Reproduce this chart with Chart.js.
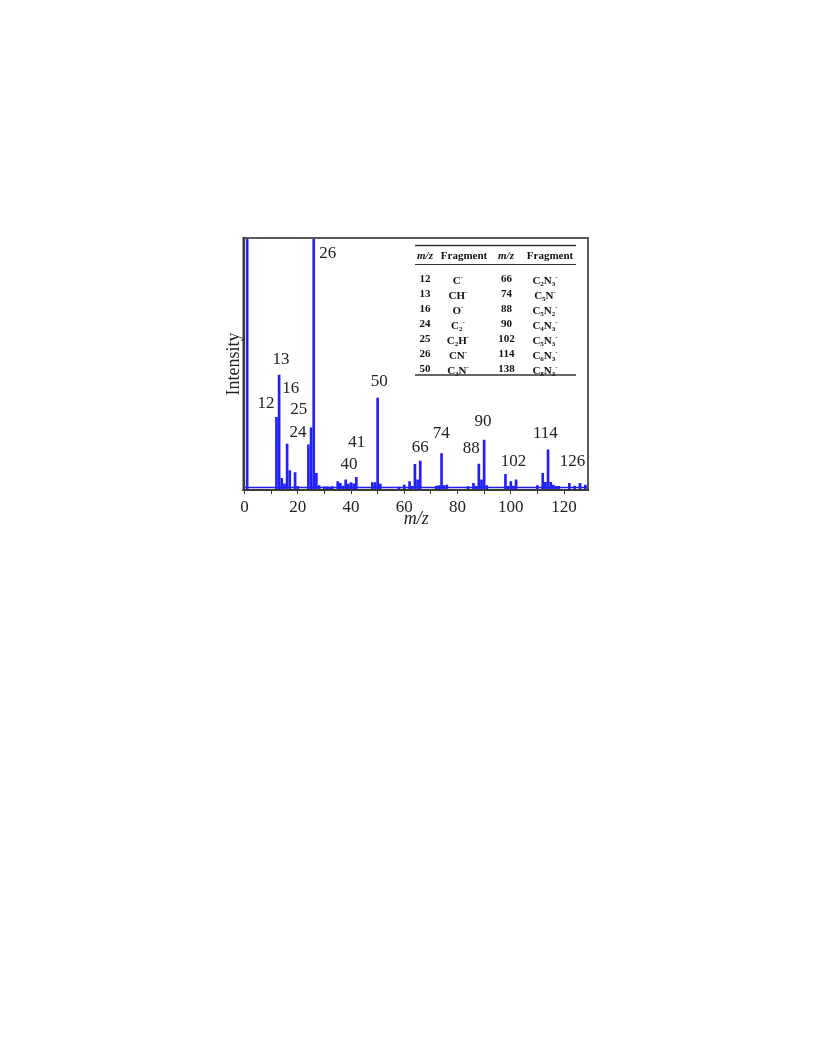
<!DOCTYPE html>
<html>
<head>
<meta charset="utf-8">
<script src="https://cdn.jsdelivr.net/npm/chart.js@4.4.1/dist/chart.umd.min.js"></script>
<style>
  html, body { margin: 0; padding: 0; background: #ffffff; }
  #wrap { position: absolute; left: 0; top: 0; width: 816px; height: 1056px; }
</style>
</head>
<body>
<div id="wrap"><canvas id="c" width="816" height="1056"></canvas></div>
<script>
// ---------- DATA ----------
const mzValues = [1, 12, 13, 14, 15, 16, 17, 19, 20, 24, 25, 26, 27, 28, 30, 31, 32, 33,
  35, 36, 37, 38, 39, 40, 41, 42, 48, 49, 50, 51, 58, 60, 62, 63, 64, 65, 66,
  72, 73, 74, 75, 76, 84, 86, 87, 88, 89, 90, 91, 98, 99, 100, 101, 102,
  110, 112, 113, 114, 115, 116, 117, 118, 122, 124, 126, 128];
const intensities = [100, 28.8, 45.6, 4.6, 2.4, 18.2, 7.7, 6.9, 1.5, 17.9, 24.7, 100, 6.6, 1.8, 1.3, 1.3, 1.2, 1.4,
  3.3, 2.6, 1.6, 4.0, 2.3, 2.9, 2.4, 5.0, 2.9, 2.9, 36.5, 2.3, 1.2, 2.0, 3.3, 1.5, 10.2, 4.0, 11.5,
  1.6, 1.8, 14.5, 1.8, 2.0, 1.4, 2.6, 1.5, 10.3, 4.0, 19.8, 1.8, 6.2, 1.5, 3.3, 1.6, 4.0,
  1.8, 6.6, 3.0, 15.9, 3.0, 2.0, 1.5, 1.5, 2.6, 1.6, 2.6, 2.0];
const baselineMz = [0, 129];
const baselineLevel = [1.0, 1.0];
const xTickLabels = [0, 20, 40, 60, 80, 100, 120];

const peakLabels = ['26', '13', '12', '16', '25', '24', '41', '40', '50', '66', '74', '88', '90', '102', '114', '126'];
const peakLabelMz = [31.3, 13.7, 8.1, 17.4, 20.4, 20.1, 42.2, 39.2, 50.6, 66.0, 73.9, 85.2, 89.6, 101.0, 113.0, 123.2];
const peakLabelLevel = [93.7, 51.6, 34.5, 40.1, 32.1, 23.0, 19.0, 10.3, 43.1, 16.9, 22.6, 16.3, 27.0, 11.1, 22.6, 11.1];

const tableHeader = ['m/z', 'Fragment', 'm/z', 'Fragment'];
const tableMzLeft = ['12', '13', '16', '24', '25', '26', '50'];
const tableFragLeft = ['C^-', 'CH^-', 'O^-', 'C_2^-', 'C_2H^-', 'CN^-', 'C_3N^-'];
const tableMzRight = ['66', '74', '88', '90', '102', '114', '138'];
const tableFragRight = ['C_2N_3^-', 'C_5N^-', 'C_5N_2^-', 'C_4N_3^-', 'C_5N_3^-', 'C_6N_3^-', 'C_8N_3^-'];

// ---------- LAYOUT / STYLE ----------
const W = 816, H = 1056;
const PLOT = { left: 244.5, right: 588, top: 238, bottom: 490 };
const Y_AXIS_W = 21, X_AXIS_H = 40;
const SERIF = "'Liberation Serif', 'Times New Roman', serif";
const BLUE = '#1f1fff';

Chart.defaults.font.family = SERIF;
Chart.defaults.color = '#222';

const framePlugin = {
  id: 'frame',
  afterDatasetsDraw(chart) {
    const { ctx, chartArea: a } = chart;
    ctx.save();
    ctx.strokeStyle = '#5a5a5a';
    ctx.lineWidth = 2;
    ctx.beginPath();
    ctx.moveTo(a.left, a.top); ctx.lineTo(a.right, a.top); ctx.lineTo(a.right, a.bottom);
    ctx.stroke();
    ctx.strokeStyle = '#3a3a3a';
    ctx.lineWidth = 2.5;
    ctx.beginPath(); ctx.moveTo(a.left - 0.75, a.top - 1); ctx.lineTo(a.left - 0.75, a.bottom + 1); ctx.stroke();
    ctx.lineWidth = 2;
    ctx.beginPath(); ctx.moveTo(a.left - 2, a.bottom); ctx.lineTo(a.right + 1, a.bottom); ctx.stroke();
    ctx.restore();
  }
};

const labelPlugin = {
  id: 'peakLabels',
  afterDraw(chart) {
    const { ctx } = chart;
    const xs = chart.scales.x, ys = chart.scales.y;
    ctx.save();
    ctx.fillStyle = '#222';
    ctx.font = '17px ' + SERIF;
    ctx.textAlign = 'center';
    ctx.textBaseline = 'middle';
    peakLabels.forEach((t, i) => {
      ctx.fillText(t, xs.getPixelForValue(peakLabelMz[i]), ys.getPixelForValue(peakLabelLevel[i]));
    });
    ctx.restore();
  }
};

function parseChem(s) {
  const parts = [];
  for (let i = 0; i < s.length; i++) {
    const ch = s[i];
    if (ch === '_' || ch === '^') { parts.push({ t: s[i + 1], k: ch === '_' ? 'sub' : 'sup' }); i++; }
    else parts.push({ t: ch, k: 'base' });
  }
  return parts;
}
function drawChem(ctx, s, cx, cy) {
  const parts = parseChem(s);
  const baseFont = 'bold 11px ' + SERIF, smallFont = 'bold 7px ' + SERIF;
  let total = 0;
  parts.forEach(p => { ctx.font = p.k === 'base' ? baseFont : smallFont; p.w = ctx.measureText(p.t).width; total += p.w; });
  let x = cx - total / 2;
  ctx.textAlign = 'left';
  ctx.textBaseline = 'alphabetic';
  const base = cy + 4;
  parts.forEach(p => {
    ctx.font = p.k === 'base' ? baseFont : smallFont;
    const y = p.k === 'sub' ? base + 2.5 : (p.k === 'sup' ? base - 4.5 : base);
    ctx.fillText(p.t, x, y);
    x += p.w;
  });
}

const tablePlugin = {
  id: 'fragTable',
  afterDraw(chart) {
    const { ctx } = chart;
    const x0 = 415, x1 = 576;
    const colHead = [425, 464, 506, 550];
    const colBody = [425, 458, 506.5, 545];
    ctx.save();
    ctx.strokeStyle = '#333';
    ctx.lineWidth = 1.5;
    ctx.beginPath(); ctx.moveTo(x0, 245.5); ctx.lineTo(x1, 245.5); ctx.stroke();
    ctx.lineWidth = 1;
    ctx.beginPath(); ctx.moveTo(x0, 264.5); ctx.lineTo(x1, 264.5); ctx.stroke();
    ctx.lineWidth = 1.5;
    ctx.beginPath(); ctx.moveTo(x0, 375); ctx.lineTo(x1, 375); ctx.stroke();
    ctx.fillStyle = '#111';
    ctx.textAlign = 'center';
    ctx.textBaseline = 'middle';
    tableHeader.forEach((h, i) => {
      ctx.font = (h === 'm/z' ? 'italic bold 11px ' : 'bold 11px ') + SERIF;
      ctx.fillText(h, colHead[i], 256.5);
    });
    for (let r = 0; r < tableMzLeft.length; r++) {
      const y = 279.5 + r * 15;
      ctx.font = 'bold 11px ' + SERIF;
      ctx.textAlign = 'center'; ctx.textBaseline = 'middle';
      ctx.fillText(tableMzLeft[r], colBody[0], y);
      ctx.fillText(tableMzRight[r], colBody[2], y);
      drawChem(ctx, tableFragLeft[r], colBody[1], y);
      drawChem(ctx, tableFragRight[r], colBody[3], y);
    }
    ctx.restore();
  }
};

new Chart(document.getElementById('c'), {
  type: 'bar',
  data: {
    datasets: [
      {
        type: 'bar',
        data: mzValues.map((m, i) => ({ x: m, y: intensities[i] })),
        backgroundColor: BLUE,
        borderWidth: 0,
        barThickness: 2
      },
      {
        type: 'line',
        data: baselineMz.map((m, i) => ({ x: m, y: baselineLevel[i] })),
        borderColor: BLUE,
        borderWidth: 1.5,
        pointRadius: 0,
        fill: false
      }
    ]
  },
  options: {
    responsive: false,
    animation: false,
    devicePixelRatio: 1,
    layout: {
      padding: {
        left: PLOT.left - Y_AXIS_W,
        top: PLOT.top,
        right: W - PLOT.right,
        bottom: H - PLOT.bottom - X_AXIS_H
      }
    },
    plugins: { legend: { display: false }, tooltip: { enabled: false } },
    scales: {
      x: {
        type: 'linear',
        min: 0, max: 129,
        offset: false,
        grid: { display: true, offset: false, drawOnChartArea: false, drawTicks: true, tickLength: 4, color: '#333', lineWidth: 1 },
        border: { display: false },
        ticks: {
          stepSize: 10, autoSkip: false, maxRotation: 0, includeBounds: false, padding: 3,
          font: { size: 17, family: SERIF }, color: '#222',
          callback: v => (xTickLabels.includes(v) ? String(v) : '')
        },
        title: { display: true, text: 'm/z', font: { size: 18, style: 'italic', family: SERIF }, color: '#222', padding: 0 },
        afterFit: s => { s.height = X_AXIS_H; }
      },
      y: {
        min: 0, max: 100,
        grid: { display: false },
        border: { display: false },
        ticks: { display: false },
        title: { display: true, text: 'Intensity', font: { size: 18, family: SERIF }, color: '#222', padding: 0 },
        afterFit: s => { s.width = Y_AXIS_W; }
      }
    }
  },
  plugins: [framePlugin, labelPlugin, tablePlugin]
});
</script>
</body>
</html>
